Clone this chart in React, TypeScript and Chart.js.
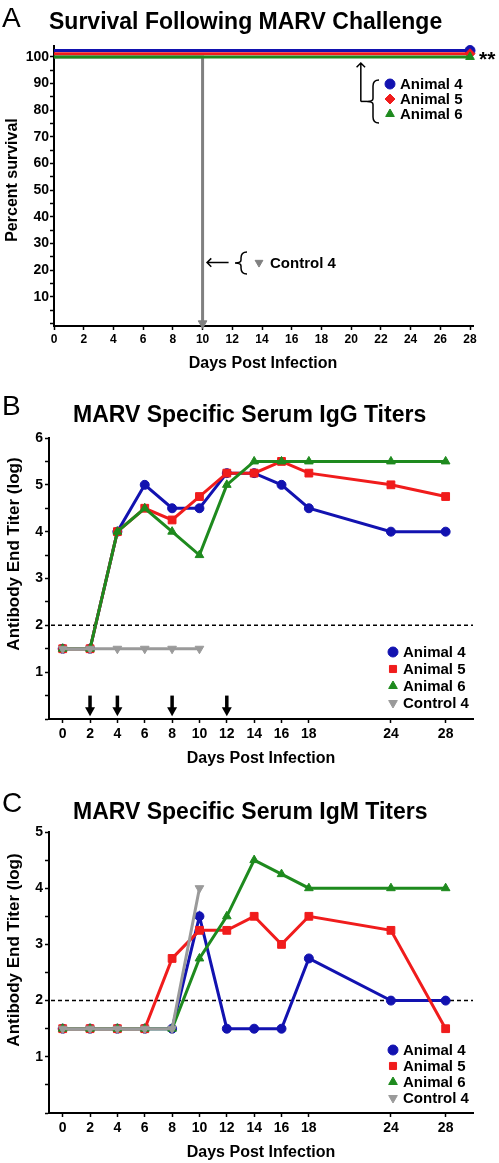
import React, { useEffect, useRef } from "react";
import { Chart, registerables } from "chart.js";

Chart.register(...registerables);

const FONT = '"Liberation Sans", Arial, Helvetica, sans-serif';

const BLUE = "#1212b0";
const RED = "#f01c1c";
const GREEN = "#1e8a1e";
const GRAY = "#9a9a9a";
const GRAY_DARK = "#808080";

// ---------- Panel A: survival ----------
const survivalDays = [0, 28];
const survivalAnimal4 = [102.4, 102.4];
const survivalAnimal5 = [101.2, 101.2];
const survivalAnimal6 = [100, 100];
const survivalControlDays = [0, 10, 10];
const survivalControl4 = [100, 100, 0];
const survivalXTicks = [0, 2, 4, 6, 8, 10, 12, 14, 16, 18, 20, 22, 24, 26, 28];
const survivalYTicks = [0, 5, 10, 15, 20, 25, 30, 35, 40, 45, 50, 55, 60, 65, 70, 75, 80, 85, 90, 95, 100];
const survivalYLabels = [10, 20, 30, 40, 50, 60, 70, 80, 90, 100];

// ---------- Panels B / C: titers ----------
const titerDays = [0, 2, 4, 6, 8, 10, 12, 14, 16, 18, 24, 28];
const controlDays = [0, 2, 4, 6, 8, 10];

const iggAnimal4 = [1.5, 1.5, 4, 5, 4.5, 4.5, 5.25, 5.25, 5, 4.5, 4, 4];
const iggAnimal5 = [1.5, 1.5, 4, 4.5, 4.25, 4.75, 5.25, 5.25, 5.5, 5.25, 5, 4.75];
const iggAnimal6 = [1.5, 1.5, 4, 4.5, 4, 3.5, 5, 5.5, 5.5, 5.5, 5.5, 5.5];
const iggControl4 = [1.5, 1.5, 1.5, 1.5, 1.5, 1.5];

const igmAnimal4 = [1.5, 1.5, 1.5, 1.5, 1.5, 3.5, 1.5, 1.5, 1.5, 2.75, 2, 2];
const igmAnimal5 = [1.5, 1.5, 1.5, 1.5, 2.75, 3.25, 3.25, 3.5, 3, 3.5, 3.25, 1.5];
const igmAnimal6 = [1.5, 1.5, 1.5, 1.5, 1.5, 2.75, 3.5, 4.5, 4.25, 4, 4, 4];
const igmControl4 = [1.5, 1.5, 1.5, 1.5, 1.5, 4];

const titerXTicks = [0, 2, 4, 6, 8, 10, 12, 14, 16, 18, 24, 28];
const iggYTicks = [0, 0.5, 1, 1.5, 2, 2.5, 3, 3.5, 4, 4.5, 5, 5.5, 6];
const igmYTicks = [0, 0.5, 1, 1.5, 2, 2.5, 3, 3.5, 4, 4.5, 5];
const titerYLabelsIgG = [1, 2, 3, 4, 5, 6];
const titerYLabelsIgM = [1, 2, 3, 4, 5];
const detectionCutoff = 2;
const boosterDays = [2, 4, 8, 12];

const pts = (xs: number[], ys: number[]) => xs.map((x, i) => ({ x, y: ys[i] }));

type Style = "circle" | "rect" | "rectRot" | "triangle";

function drawMarker(ctx: CanvasRenderingContext2D, style: Style, x: number, y: number, r: number, color: string, rotation = 0) {
  ctx.save();
  ctx.fillStyle = color;
  ctx.strokeStyle = color;
  ctx.lineWidth = 1;
  ctx.beginPath();
  if (style === "circle") {
    ctx.arc(x, y, r, 0, Math.PI * 2);
  } else if (style === "rect") {
    const s = r * Math.SQRT1_2;
    ctx.rect(x - s, y - s, 2 * s, 2 * s);
  } else if (style === "rectRot") {
    ctx.moveTo(x, y - r);
    ctx.lineTo(x + r, y);
    ctx.lineTo(x, y + r);
    ctx.lineTo(x - r, y);
    ctx.closePath();
  } else {
    let a = (rotation * Math.PI) / 180;
    ctx.moveTo(x + Math.sin(a) * r, y - Math.cos(a) * r);
    a += (2 * Math.PI) / 3;
    ctx.lineTo(x + Math.sin(a) * r, y - Math.cos(a) * r);
    a += (2 * Math.PI) / 3;
    ctx.lineTo(x + Math.sin(a) * r, y - Math.cos(a) * r);
    ctx.closePath();
  }
  ctx.fill();
  ctx.stroke();
  ctx.restore();
}

function rotatedText(ctx: CanvasRenderingContext2D, text: string, x: number, y: number, font: string) {
  ctx.save();
  ctx.translate(x, y);
  ctx.rotate(-Math.PI / 2);
  ctx.font = font;
  ctx.fillStyle = "#000";
  ctx.textAlign = "center";
  ctx.textBaseline = "middle";
  ctx.fillText(text, 0, 0);
  ctx.restore();
}

function brace(ctx: CanvasRenderingContext2D, x: number, yTop: number, yBot: number, w: number) {
  const ym = (yTop + yBot) / 2;
  ctx.beginPath();
  ctx.moveTo(x + w, yTop);
  ctx.quadraticCurveTo(x, yTop, x, yTop + w);
  ctx.lineTo(x, ym - w / 2);
  ctx.quadraticCurveTo(x, ym, x - w, ym);
  ctx.quadraticCurveTo(x, ym, x, ym + w / 2);
  ctx.lineTo(x, yBot - w);
  ctx.quadraticCurveTo(x, yBot, x + w, yBot);
  ctx.stroke();
}

function thinArrow(ctx: CanvasRenderingContext2D, x1: number, y1: number, x2: number, y2: number) {
  const ang = Math.atan2(y2 - y1, x2 - x1);
  const h = 6;
  ctx.beginPath();
  ctx.moveTo(x1, y1);
  ctx.lineTo(x2, y2);
  ctx.moveTo(x2 - h * Math.cos(ang - Math.PI / 4), y2 - h * Math.sin(ang - Math.PI / 4));
  ctx.lineTo(x2, y2);
  ctx.lineTo(x2 - h * Math.cos(ang + Math.PI / 4), y2 - h * Math.sin(ang + Math.PI / 4));
  ctx.stroke();
}

function xScale(min: number, max: number, ticks: number[], size: number, pad: number, height: number) {
  return {
    type: "linear",
    min,
    max,
    afterBuildTicks: (s: any) => {
      s.ticks = ticks.map((v) => ({ value: v }));
    },
    afterFit: (s: any) => {
      s.height = height;
    },
    grid: { display: true, drawOnChartArea: false, drawTicks: true, tickLength: 4, tickWidth: 1.5, tickColor: "#000" },
    border: { display: true, color: "#000", width: 2 },
    ticks: {
      color: "#000",
      autoSkip: false,
      maxRotation: 0,
      padding: pad,
      font: { family: FONT, size, weight: "bold" },
      callback: (v: any) => String(v),
    },
  };
}

function yScale(min: number, max: number, ticks: number[], labels: number[], size: number, pad: number, width: number) {
  return {
    type: "linear",
    min,
    max,
    afterBuildTicks: (s: any) => {
      s.ticks = ticks.map((v) => ({ value: v }));
    },
    afterFit: (s: any) => {
      s.width = width;
    },
    grid: { display: true, drawOnChartArea: false, drawTicks: true, tickLength: 4, tickWidth: 1.5, tickColor: "#000" },
    border: { display: true, color: "#000", width: 2 },
    ticks: {
      color: "#000",
      autoSkip: false,
      padding: pad,
      font: { family: FONT, size, weight: "bold" },
      callback: (v: any) => (labels.includes(Number(v)) ? String(v) : ""),
    },
  };
}

function series(label: string, xs: number[], ys: number[], color: string, style: Style, order: number, extra: any = {}) {
  return {
    label,
    data: pts(xs, ys),
    borderColor: color,
    backgroundColor: color,
    pointBackgroundColor: color,
    pointBorderColor: color,
    pointBorderWidth: 1,
    pointStyle: style,
    pointRadius: 5,
    borderWidth: 3,
    tension: 0,
    clip: false,
    order,
    ...extra,
  };
}

const baseOptions = {
  responsive: false,
  animation: false,
  devicePixelRatio: 1,
  events: [],
  plugins: { legend: { display: false }, tooltip: { enabled: false }, title: { display: false } },
};

function buildA() {
  const plugin = {
    id: "panelA",
    afterDraw(chart: any) {
      const { ctx, scales } = chart;
      const xs = scales.x;
      const ys = scales.y;
      ctx.save();
      ctx.fillStyle = "#000";
      ctx.strokeStyle = "#000";
      ctx.textAlign = "left";
      ctx.textBaseline = "alphabetic";
      ctx.font = `28px ${FONT}`;
      ctx.fillText("A", 2, 27);
      ctx.font = `bold 23px ${FONT}`;
      ctx.fillText("Survival Following MARV Challenge", 49, 29);
      ctx.font = `bold 21px ${FONT}`;
      ctx.fillText("**", 479, 66);

      rotatedText(ctx, "Percent survival", 13, 180, `bold 16px ${FONT}`);
      ctx.font = `bold 16px ${FONT}`;
      ctx.textAlign = "center";
      ctx.textBaseline = "middle";
      ctx.fillText("Days Post Infection", 263, 364);

      // up arrow to surviving animals
      ctx.lineWidth = 1.5;
      const ax = xs.getPixelForValue(20.65);
      const aTip = ys.getPixelForValue(97.7);
      const aBase = ys.getPixelForValue(83.3);
      thinArrow(ctx, ax, aBase, ax, aTip);
      ctx.beginPath();
      ctx.moveTo(ax, aBase);
      ctx.lineTo(367, aBase);
      ctx.stroke();
      brace(ctx, 373, 80, 123, 6);

      const legendA = [
        { label: "Animal 4", color: BLUE, style: "circle" as Style, y: 84 },
        { label: "Animal 5", color: RED, style: "rectRot" as Style, y: 99 },
        { label: "Animal 6", color: GREEN, style: "triangle" as Style, y: 114 },
      ];
      ctx.font = `bold 15px ${FONT}`;
      ctx.textAlign = "left";
      ctx.textBaseline = "middle";
      legendA.forEach((e) => {
        drawMarker(ctx, e.style, 390, e.y, 5, e.color);
        ctx.fillStyle = "#000";
        ctx.fillText(e.label, 400, e.y + 1);
      });

      // control arrow
      const cy = ys.getPixelForValue(22.8);
      thinArrow(ctx, xs.getPixelForValue(11.75), cy, xs.getPixelForValue(10.3), cy);
      brace(ctx, 241, 252, 274, 6);
      drawMarker(ctx, "triangle", 259, cy, 4.5, GRAY_DARK, 180);
      ctx.fillStyle = "#000";
      ctx.fillText("Control 4", 270, cy + 1);
      ctx.restore();
    },
  };
  return {
    type: "line",
    data: {
      datasets: [
        series("Animal 4", survivalDays, survivalAnimal4, BLUE, "circle", 3, { pointRadius: [0, 5] }),
        series("Animal 5", survivalDays, survivalAnimal5, RED, "rectRot", 2, { pointRadius: [0, 5] }),
        series("Animal 6", survivalDays, survivalAnimal6, GREEN, "triangle", 1, { pointRadius: [0, 5] }),
        series("Control 4", survivalControlDays, survivalControl4, GRAY_DARK, "triangle", 5, {
          pointRadius: [0, 0, 5],
          pointRotation: 180,
        }),
      ],
    },
    options: {
      ...baseOptions,
      layout: { padding: { left: 0, right: 26, top: 46, bottom: 0 } },
      scales: {
        x: xScale(0, 28.2, survivalXTicks, 12, 2, 54),
        y: yScale(-1, 104.1, survivalYTicks, survivalYLabels, 14, 1, 54),
      },
    },
    plugins: [plugin],
  };
}

function titerLegendAndDecor(letter: string, title: string, opts: any) {
  return {
    id: "panel" + letter,
    beforeDatasetsDraw(chart: any) {
      const { ctx, chartArea, scales } = chart;
      const ys = scales.y;
      const yc = ys.getPixelForValue(detectionCutoff);
      ctx.save();
      ctx.strokeStyle = "#000";
      ctx.lineWidth = 1.5;
      ctx.setLineDash([4, 3]);
      ctx.beginPath();
      ctx.moveTo(chartArea.left + 2, yc);
      ctx.lineTo(chartArea.right, yc);
      ctx.stroke();
      ctx.restore();
    },
    afterDraw(chart: any) {
      const { ctx, scales } = chart;
      const xs = scales.x;
      const ys = scales.y;
      ctx.save();
      ctx.fillStyle = "#000";
      ctx.textAlign = "left";
      ctx.textBaseline = "alphabetic";
      ctx.font = `28px ${FONT}`;
      ctx.fillText(letter, 2, opts.letterY);
      ctx.font = `bold 23px ${FONT}`;
      ctx.fillText(title, 73, opts.titleY);

      rotatedText(ctx, "Antibody End Titer (log)", 14, opts.yTitleY, `bold 17px ${FONT}`);
      ctx.font = `bold 16px ${FONT}`;
      ctx.textAlign = "center";
      ctx.textBaseline = "middle";
      ctx.fillText("Days Post Infection", 261, opts.xTitleY);

      if (opts.arrows) {
        boosterDays.forEach((d) => {
          const x = xs.getPixelForValue(d);
          const y1 = ys.getPixelForValue(0.5);
          const y2 = ys.getPixelForValue(0.06);
          ctx.fillStyle = "#000";
          ctx.fillRect(x - 1.75, y1, 3.5, y2 - y1 - 7);
          ctx.beginPath();
          ctx.moveTo(x - 5, y2 - 9);
          ctx.lineTo(x + 5, y2 - 9);
          ctx.lineTo(x, y2);
          ctx.closePath();
          ctx.fill();
        });
      }

      ctx.font = `bold 15px ${FONT}`;
      ctx.textAlign = "left";
      ctx.textBaseline = "middle";
      chart.data.datasets.forEach((ds: any, i: number) => {
        const y = opts.legendY + i * opts.legendStep;
        drawMarker(ctx, ds.pointStyle, 393, y, 5, ds.borderColor, ds.pointRotation || 0);
        ctx.fillStyle = "#000";
        ctx.fillText(ds.label, 403, y + 1);
      });
      ctx.restore();
    },
  };
}

function buildTiter(letter: string, title: string, a4: number[], a5: number[], a6: number[], c4: number[], yMax: number, yTicks: number[], yLabels: number[], layout: any) {
  return {
    type: "line",
    data: {
      datasets: [
        series("Animal 4", titerDays, a4, BLUE, "circle", 4, { pointRadius: 4.5 }),
        series("Animal 5", titerDays, a5, RED, "rect", 3, { pointRadius: 5.5 }),
        series("Animal 6", titerDays, a6, GREEN, "triangle", 2),
        series("Control 4", controlDays, c4, GRAY, "triangle", 1, { pointRotation: 180 }),
      ],
    },
    options: {
      ...baseOptions,
      layout: { padding: { left: 0, right: 26, top: layout.top, bottom: 0 } },
      scales: {
        x: xScale(-1, 30, titerXTicks, 14, 3, layout.xHeight),
        y: yScale(0, yMax, yTicks, yLabels, 14, 2, 49),
      },
    },
    plugins: [titerLegendAndDecor(letter, title, layout)],
  };
}

const buildB = () =>
  buildTiter("B", "MARV Specific Serum IgG Titers", iggAnimal4, iggAnimal5, iggAnimal6, iggControl4, 6, iggYTicks, titerYLabelsIgG, {
    top: 58,
    xHeight: 61,
    letterY: 35,
    titleY: 42,
    yTitleY: 174,
    xTitleY: 379,
    legendY: 272,
    legendStep: 17,
    arrows: true,
  });

const buildC = () =>
  buildTiter("C", "MARV Specific Serum IgM Titers", igmAnimal4, igmAnimal5, igmAnimal6, igmControl4, 5, igmYTicks, titerYLabelsIgM, {
    top: 52,
    xHeight: 50,
    letterY: 32,
    titleY: 39,
    yTitleY: 170,
    xTitleY: 373,
    legendY: 270,
    legendStep: 16,
    arrows: false,
  });

function ChartCanvas({ top, height, build }: { top: number; height: number; build: () => any }) {
  const ref = useRef<HTMLCanvasElement>(null);
  useEffect(() => {
    const chart = new Chart(ref.current as HTMLCanvasElement, build());
    return () => chart.destroy();
  }, []);
  return (
    <canvas
      ref={ref}
      width={499}
      height={height}
      style={{ position: "absolute", left: 0, top, width: 499, height, display: "block" }}
    />
  );
}

export default function App() {
  return (
    <div style={{ position: "absolute", left: 0, top: 0, width: 499, height: 1163, background: "#fff" }}>
      <ChartCanvas top={0} height={380} build={buildA} />
      <ChartCanvas top={380} height={400} build={buildB} />
      <ChartCanvas top={780} height={383} build={buildC} />
    </div>
  );
}
